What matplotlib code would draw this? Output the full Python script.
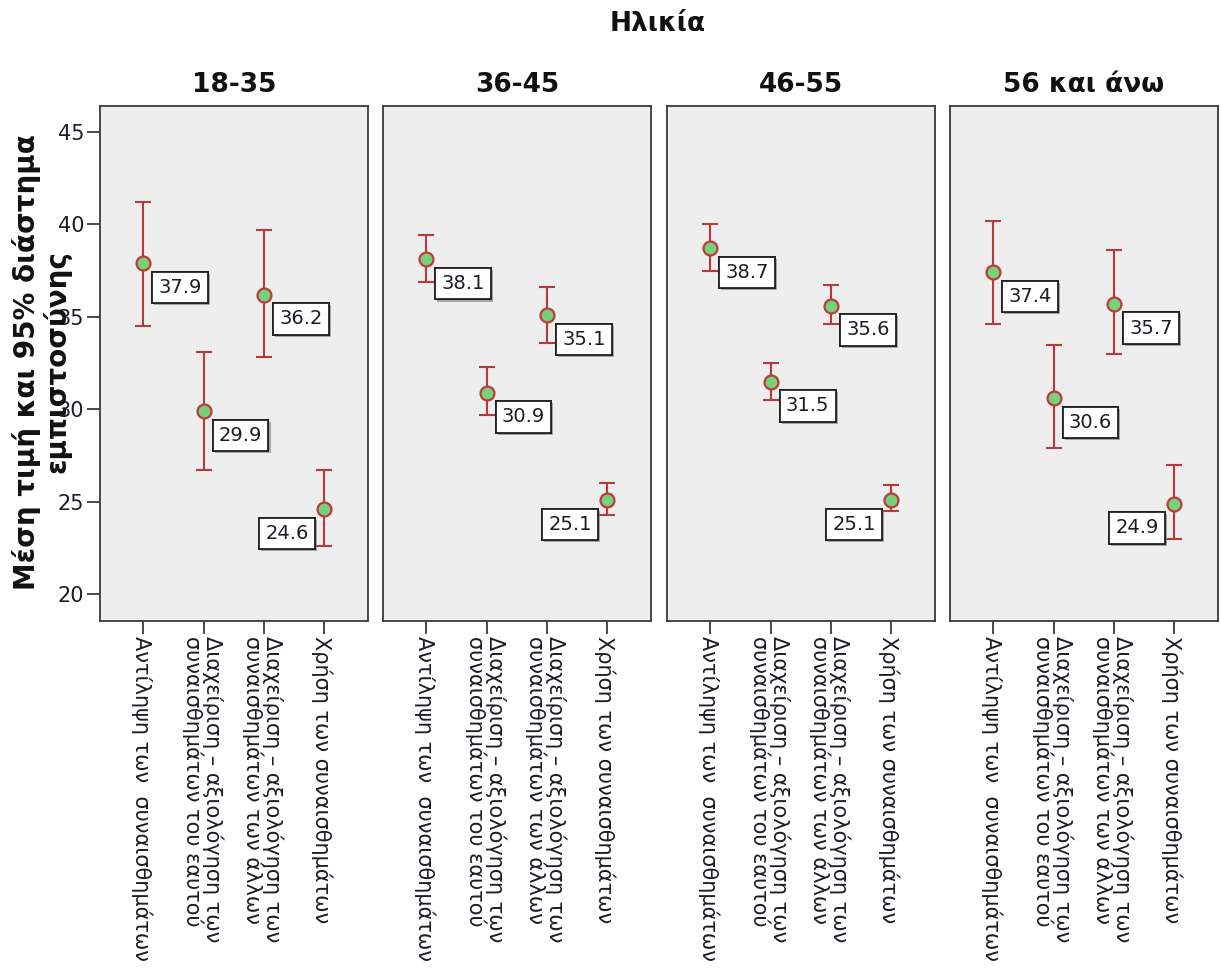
import numpy as np
import matplotlib
matplotlib.use("Agg")
import matplotlib.pyplot as plt
from matplotlib import patheffects

plt.rcParams['font.family'] = ['DejaVu Sans']

# Age groups (panels) and the four emotional-intelligence subscales
age_groups = ["18-35", "36-45", "46-55", "56 και άνω"]
categories = [
    "Αντίληψη των  συναισθημάτων",
    "Διαχείριση – αξιολόγηση των\nσυναισθημάτων του εαυτού",
    "Διαχείριση – αξιολόγηση των\nσυναισθημάτων των άλλων",
    "Χρήση των συναισθημάτων",
]

# Means and 95% confidence limits per age group
means_18_35 = [37.9, 29.9, 36.2, 24.6]
lower_18_35 = [34.5, 26.7, 32.8, 22.6]
upper_18_35 = [41.2, 33.1, 39.7, 26.7]

means_36_45 = [38.1, 30.9, 35.1, 25.1]
lower_36_45 = [36.9, 29.7, 33.6, 24.3]
upper_36_45 = [39.4, 32.3, 36.6, 26.0]

means_46_55 = [38.7, 31.5, 35.6, 25.1]
lower_46_55 = [37.5, 30.5, 34.6, 24.5]
upper_46_55 = [40.0, 32.5, 36.7, 25.9]

means_56_up = [37.4, 30.6, 35.7, 24.9]
lower_56_up = [34.6, 27.9, 33.0, 23.0]
upper_56_up = [40.2, 33.5, 38.6, 27.0]

y_ticks = [20, 25, 30, 35, 40, 45]

panels = [
    (means_18_35, lower_18_35, upper_18_35),
    (means_36_45, lower_36_45, upper_36_45),
    (means_46_55, lower_46_55, upper_46_55),
    (means_56_up, lower_56_up, upper_56_up),
]

W, H = 1221, 976
fig = plt.figure(figsize=(W / 100, H / 100), dpi=100)

panel_lefts = [100, 383, 667, 950]
panel_w, panel_top, panel_bottom = 268, 106, 621

text_col = "#1c1c24"
bar_col = "#b8383e"
face_green = "#74d27a"
edge_red = "#c0393b"

for i, (grp, (m, lo, up)) in enumerate(zip(age_groups, panels)):
    ax = fig.add_axes([panel_lefts[i] / W, 1 - panel_bottom / H,
                       panel_w / W, (panel_bottom - panel_top) / H])
    ax.set_facecolor("#eeeeee")
    x = np.arange(len(categories))
    m = np.asarray(m)
    lo = np.asarray(lo)
    up = np.asarray(up)
    ax.errorbar(x, m, yerr=[m - lo, up - m], fmt="none", ecolor=bar_col,
                elinewidth=1.5, capsize=5.5, capthick=1.5, zorder=2)
    ax.plot(x, m, ls="none", marker="o", ms=10, mfc=face_green,
            mec=edge_red, mew=1.6, zorder=3)

    for j, val in enumerate(m):
        dx = -26.6 if j == len(m) - 1 else 26.6
        ann = ax.annotate(f"{val:.1f}", xy=(x[j], val), xytext=(dx, -17.5),
                          textcoords="offset points", ha="center", va="center",
                          fontsize=14, color=text_col, zorder=4,
                          bbox=dict(boxstyle="square,pad=0.32", fc="white",
                                    ec="#222222", lw=1.3))
        ann.get_bbox_patch().set_path_effects([
            patheffects.withSimplePatchShadow(offset=(1.5, -1.5),
                                              shadow_rgbFace="#777777",
                                              alpha=0.6),
            patheffects.Normal()])

    ax.set_xlim(-0.72, 3.73)
    ax.set_ylim(18.56, 46.39)
    for s in ax.spines.values():
        s.set_color("#3a3a3a")
        s.set_linewidth(1.3)

    ax.set_xticks(x)
    ax.set_xticklabels(categories, rotation=270, rotation_mode="anchor",
                       ha="left", va="center_baseline", fontsize=15,
                       color=text_col, linespacing=0.9)
    ax.tick_params(axis="x", direction="out", length=9, width=1.3,
                   color="#3a3a3a", pad=2)

    if i == 0:
        ax.set_yticks(y_ticks)
        ax.set_yticklabels([str(t) for t in y_ticks], fontsize=15,
                           color=text_col)
        ax.tick_params(axis="y", direction="out", length=9.5, width=1.3,
                       color="#3a3a3a", pad=2)
    else:
        ax.set_yticks([])

    ax.set_title(grp, fontsize=19, fontweight="bold", color="#111111", pad=10)

fig.text(658 / W, 1 - 24 / H, "Ηλικία", ha="center", va="center",
         fontsize=19, fontweight="bold", color="#111111")

fig.text(42 / W, 1 - 362 / H, "Μέση τιμή και 95% διάστημα\nεμπιστοσύνης",
         rotation=90, ha="center", va="center", fontsize=20,
         fontweight="bold", color="#111111", linespacing=1.05,
         multialignment="center")

fig.savefig("out.png", dpi=100, facecolor="white")
